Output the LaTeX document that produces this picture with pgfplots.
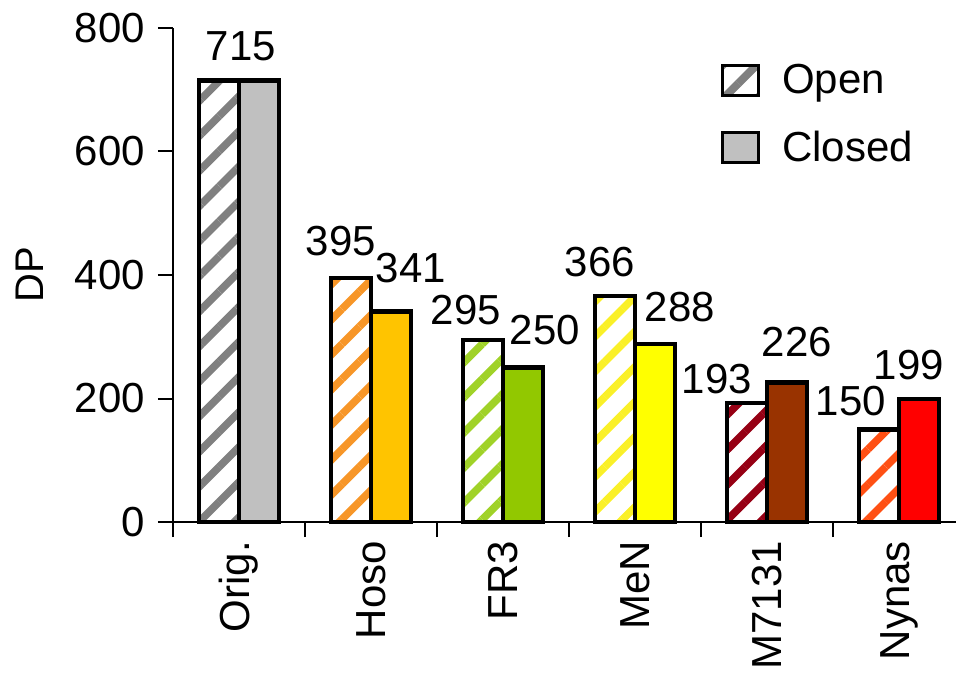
\documentclass[border=0pt]{standalone}
\usepackage{fontspec}
\setmainfont{Liberation Sans}
\usepackage{pgfplots}
\pgfplotsset{compat=1.18}
\usetikzlibrary{patterns.meta}
\definecolor{origH}{RGB}{128,128,128}
\definecolor{origC}{RGB}{192,192,192}
\definecolor{hosoH}{RGB}{247,150,40}
\definecolor{hosoC}{RGB}{255,196,0}
\definecolor{frH}{RGB}{160,210,40}
\definecolor{frC}{RGB}{146,200,0}
\definecolor{menH}{RGB}{250,240,40}
\definecolor{menC}{RGB}{255,255,0}
\definecolor{mH}{RGB}{150,0,20}
\definecolor{mC}{RGB}{153,51,0}
\definecolor{nyH}{RGB}{255,80,20}
\definecolor{nyC}{RGB}{255,0,0}
\newcommand{\fs}{\fontsize{21bp}{25bp}\selectfont}
\pgfplotsset{
  openbar/.style={ybar, bar width=20bp, bar shift=-10bp, draw=black, line width=2.2bp,
    pattern={Lines[angle=45,distance=12.4bp,line width=3.8bp]}, pattern color=#1, forget plot},
  closedbar/.style={ybar, bar width=20bp, bar shift=10bp, draw=black, line width=2.2bp,
    fill=#1, forget plot},
}
\begin{document}
\begin{tikzpicture}[font=\fs]
\begin{axis}[
  at={(0,0)}, anchor=south west, scale only axis,
  width=391.5bp, height=247bp,
  xmin=-0.5, xmax=5.432, ymin=0, ymax=800,
  axis x line=bottom, axis y line=left,
  axis line style={-, line width=1bp},
  clip=false,
  ytick={0,200,400,600,800},
  yticklabel style={xshift=-3bp},
  xtick={-0.5,0.5,1.5,2.5,3.5,4.5}, xticklabels={},
  extra x ticks={0,1,2,3,4,5},
  extra x tick labels={Orig.,Hoso,FR3,MeN,M7131,Nynas},
  extra x tick style={major tick length=0pt, tick label style={yshift=-6bp, rotate=90, anchor=east, font=\fs}},
  tick align=outside, major tick length=7.5bp,
  tick style={black, line width=1bp},
  tick label style={font=\fs},
  /pgf/number format/assume math mode=true,
  ylabel={DP},
  ylabel style={at={(axis description cs:-0.1826,0.5)}, anchor=center, font=\fontsize{20bp}{24bp}\selectfont},
  legend image code/.code={\draw[#1, line width=1.5bp] (0bp,-7.5bp) rectangle (18bp,7.5bp); \path (26bp,0bp);},
  legend style={draw=none, fill=none, at={(0.699,0.935)}, anchor=north west,
    inner sep=0pt, row sep=13bp, font=\fs},
  legend cell align=left,
]
\addlegendimage{draw=black, pattern={Lines[angle=45,distance=12bp,line width=4bp]}, pattern color=origH}
\addlegendentry{Open}
\addlegendimage{draw=black, fill=origC}
\addlegendentry{Closed}

\addplot[openbar=origH] coordinates {(0,715)};
\addplot[closedbar=origC] coordinates {(0,715)};
\addplot[openbar=hosoH] coordinates {(1,395)};
\addplot[closedbar=hosoC] coordinates {(1,341)};
\addplot[openbar=frH] coordinates {(2,295)};
\addplot[closedbar=frC] coordinates {(2,250)};
\addplot[openbar=menH] coordinates {(3,366)};
\addplot[closedbar=menC] coordinates {(3,288)};
\addplot[openbar=mH] coordinates {(4,193)};
\addplot[closedbar=mC] coordinates {(4,226)};
\addplot[openbar=nyH] coordinates {(5,150)};
\addplot[closedbar=nyC] coordinates {(5,199)};

\node at (axis cs:0.015,771) {715};
\node at (axis cs:0.773,455) {395};
\node at (axis cs:1.303,411) {341};
\node at (axis cs:1.72,343) {295};
\node at (axis cs:2.318,311) {250};
\node at (axis cs:2.735,421) {366};
\node at (axis cs:3.34,348) {288};
\node at (axis cs:3.62,232) {193};
\node at (axis cs:4.227,291) {226};
\node at (axis cs:4.636,196) {150};
\node at (axis cs:5.076,254) {199};
\end{axis}
\pgfresetboundingbox
\useasboundingbox (-86.5bp,-82bp) rectangle (391.5bp,261bp);
\end{tikzpicture}
\end{document}
